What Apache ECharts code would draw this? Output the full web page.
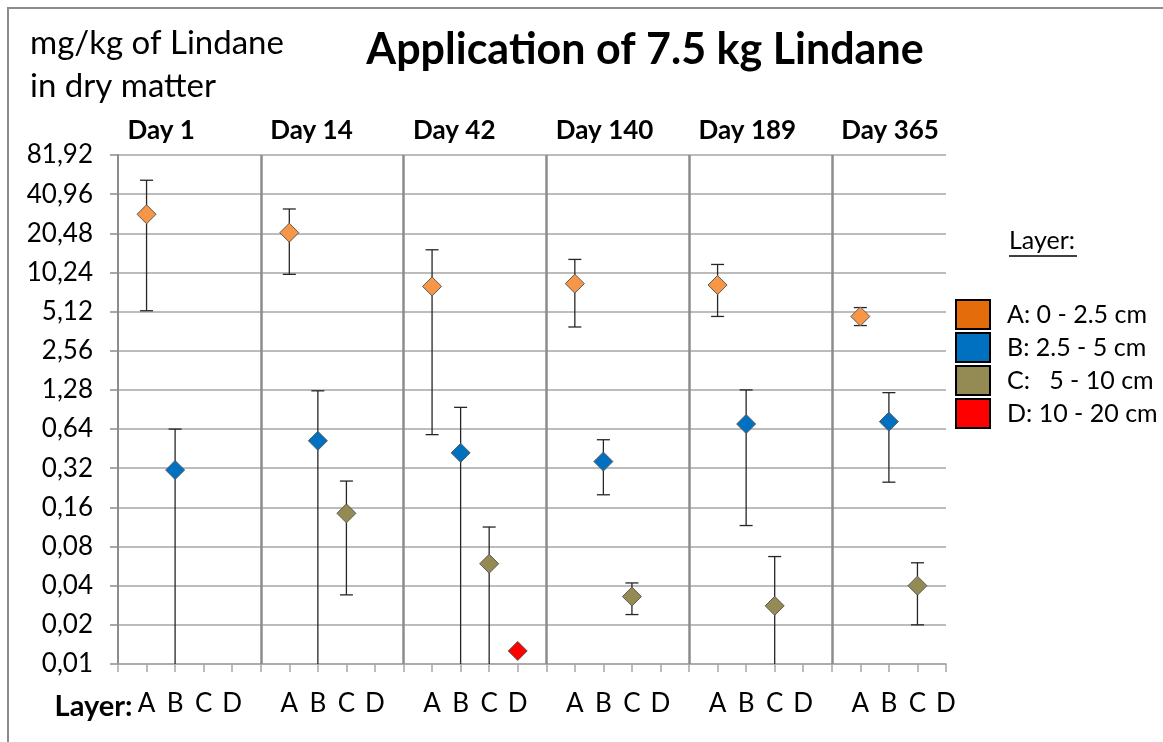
<!DOCTYPE html>
<html>
<head>
<meta charset="utf-8">
<script src="https://cdn.jsdelivr.net/npm/echarts@6/dist/echarts.min.js"></script>
<style>
  html, body { margin: 0; padding: 0; background: #fff; }
  #chart { width: 1163px; height: 742px; }
</style>
</head>
<body>
<div id="chart"></div>
<script>
// sampling days and soil layers
const days = ['Day 1', 'Day 14', 'Day 42', 'Day 140', 'Day 189', 'Day 365']
const layers = ['A', 'B', 'C', 'D']
const layerNames = ['A: 0 - 2.5 cm', 'B: 2.5 - 5 cm', 'C:   5 - 10 cm', 'D: 10 - 20 cm']
const yTickLabels = ['0,01', '0,02', '0,04', '0,08', '0,16', '0,32', '0,64', '1,28', '2,56', '5,12', '10,24', '20,48', '40,96', '81,92']

// mg/kg, one value per day (null = no sample); lows below 0.01 fall off the axis
const meanA = [28.7, 20.7, 8.0, 8.4, 8.2, 4.7]
const lowA = [5.2, 9.9, 0.58, 3.9, 4.7, 4.0]
const highA = [52.4, 31.5, 15.3, 12.9, 11.8, 5.5]
const meanB = [0.31, 0.52, 0.42, 0.36, 0.70, 0.73]
const lowB = [0.005, 0.005, 0.005, 0.20, 0.116, 0.25]
const highB = [0.64, 1.26, 0.94, 0.53, 1.28, 1.22]
const meanC = [null, 0.144, 0.059, 0.033, 0.028, 0.040]
const lowC = [null, 0.034, 0.005, 0.024, 0.005, 0.020]
const highC = [null, 0.255, 0.113, 0.042, 0.067, 0.060]
const meanD = [null, null, 0.0126, null, null, null]
const lowD = [null, null, null, null, null, null]
const highD = [null, null, null, null, null, null]

const means = [meanA, meanB, meanC, meanD]
const lows = [lowA, lowB, lowC, lowD]
const highs = [highA, highB, highC, highD]

const markerColors = ['#f79646', '#0070c0', '#948a54', '#ff0000']
const legendColors = ['#e46c0a', '#0070c0', '#948a54', '#ff0000']
const FONT = 'Lato'

// axis is log2 with 0.01 at the bottom
const t = v => Math.log2(v / 0.01)
const xPos = (d, i) => d * 5 + i + 1

const chart = echarts.init(document.getElementById('chart'))

const scatterSeries = layers.map((l, i) => ({
    name: layerNames[i],
    type: 'scatter',
    symbol: 'diamond',
    symbolSize: [19, 19],
    z: 4,
    itemStyle: { color: markerColors[i], borderColor: '#5a5a5a', borderWidth: 1, opacity: 1 },
    data: means[i].map((v, d) => v == null ? null : [xPos(d, i), t(v)]).filter(p => p)
}))

const barData = []
layers.forEach((l, i) => {
    means[i].forEach((v, d) => {
        if (v != null && lows[i][d] != null) barData.push([xPos(d, i), t(lows[i][d]), t(highs[i][d])])
    })
})

const option = {
    animation: false,
    backgroundColor: '#fff',
    textStyle: { fontFamily: FONT },
    grid: { left: 118, top: 155, width: 828, height: 509, containLabel: false },
    legend: {
        orient: 'vertical',
        left: 955,
        top: 299,
        padding: 0,
        itemWidth: 34,
        itemHeight: 29,
        itemGap: 2,
        icon: 'rect',
        selectedMode: false,
        data: layerNames.map((n, i) => ({
            name: n,
            itemStyle: { color: legendColors[i], borderColor: '#000', borderWidth: 2 }
        })),
        textStyle: { fontFamily: FONT, fontSize: 25, color: '#000', padding: [0, 0, 8, 12] }
    },
    xAxis: {
        type: 'value',
        min: 0,
        max: 29,
        interval: 1,
        axisLine: { show: true, lineStyle: { color: '#a6a6a6', width: 1.5 } },
        axisTick: { show: true, length: 8, lineStyle: { color: '#a6a6a6', width: 1.5 } },
        splitLine: { show: false },
        axisLabel: {
            margin: 27,
            fontFamily: FONT,
            fontSize: 26,
            color: '#000',
            formatter: v => (v % 5 === 0 ? '' : layers[v % 5 - 1])
        }
    },
    yAxis: {
        type: 'value',
        min: 0,
        max: 13,
        interval: 1,
        axisLine: { show: true, lineStyle: { color: '#8c8c8c', width: 2 } },
        axisTick: { show: true, length: 8, lineStyle: { color: '#8c8c8c', width: 1.5 } },
        splitLine: { show: true, lineStyle: { color: '#a6a6a6', width: 1.5 } },
        axisLabel: {
            margin: 25,
            fontFamily: FONT,
            fontSize: 26,
            color: '#000',
            formatter: v => yTickLabels[v]
        }
    },
    series: [
        {
            name: 'errors',
            type: 'custom',
            z: 3,
            data: barData,
            encode: { x: 0, y: [1, 2] },
            renderItem: function (params, api) {
                const x = api.value(0)
                const lo = api.value(1)
                const hi = api.value(2)
                const top = api.coord([x, hi])
                const bot = api.coord([x, Math.max(lo, 0)])
                const cap = 6.5
                const style = { stroke: '#262626', lineWidth: 1.3 }
                const children = [
                    { type: 'line', shape: { x1: top[0], y1: top[1], x2: bot[0], y2: bot[1] }, style },
                    { type: 'line', shape: { x1: top[0] - cap, y1: top[1], x2: top[0] + cap, y2: top[1] }, style }
                ]
                if (lo >= 0) {
                    children.push({ type: 'line', shape: { x1: bot[0] - cap, y1: bot[1], x2: bot[0] + cap, y2: bot[1] }, style })
                }
                return { type: 'group', children }
            },
            markLine: {
                silent: true,
                symbol: ['none', 'none'],
                label: { show: false },
                lineStyle: { color: '#8c8c8c', width: 2.5, type: 'solid' },
                data: [5, 10, 15, 20, 25].map(v => ({ xAxis: v }))
            }
        },
        ...scatterSeries
    ]
}

chart.setOption(option)

// texts placed relative to the axes
const dayLabels = days.map((d, i) => ({
    type: 'text',
    x: chart.convertToPixel({ xAxisIndex: 0 }, xPos(i, 0)) - 19,
    y: 131,
    style: { text: d, font: 'bold 26px ' + FONT, fill: '#000', textAlign: 'left', textVerticalAlign: 'middle' }
}))
const layerX = chart.convertToPixel({ xAxisIndex: 0 }, 1) - 14

chart.setOption({
    graphic: [
        {
            type: 'rect',
            shape: { x: 8, y: 8, width: 1200, height: 800 },
            style: { fill: 'none', stroke: '#8c8c8c', lineWidth: 2 },
            silent: true
        },
        {
            type: 'text', x: 645, y: 50,
            style: { text: 'Application of 7.5 kg Lindane', font: 'bold 43px ' + FONT, fill: '#000', textAlign: 'center', textVerticalAlign: 'middle' }
        },
        {
            type: 'text', x: 30, y: 43,
            style: { text: 'mg/kg of Lindane', font: '33px ' + FONT, fill: '#000', textAlign: 'left', textVerticalAlign: 'middle' }
        },
        {
            type: 'text', x: 30, y: 86,
            style: { text: 'in dry matter', font: '33px ' + FONT, fill: '#000', textAlign: 'left', textVerticalAlign: 'middle' }
        },
        {
            type: 'text', x: layerX, y: 707,
            style: { text: 'Layer:', font: 'bold 29px ' + FONT, fill: '#000', textAlign: 'right', textVerticalAlign: 'middle' }
        },
        {
            type: 'text', x: 1009, y: 241,
            style: { text: 'Layer:', font: '25px ' + FONT, fill: '#000', textAlign: 'left', textVerticalAlign: 'middle' }
        },
        {
            type: 'line',
            shape: { x1: 1009, y1: 256, x2: 1077, y2: 256 },
            style: { stroke: '#000', lineWidth: 1.5 }
        },
        ...dayLabels
    ]
})
</script>
</body>
</html>
